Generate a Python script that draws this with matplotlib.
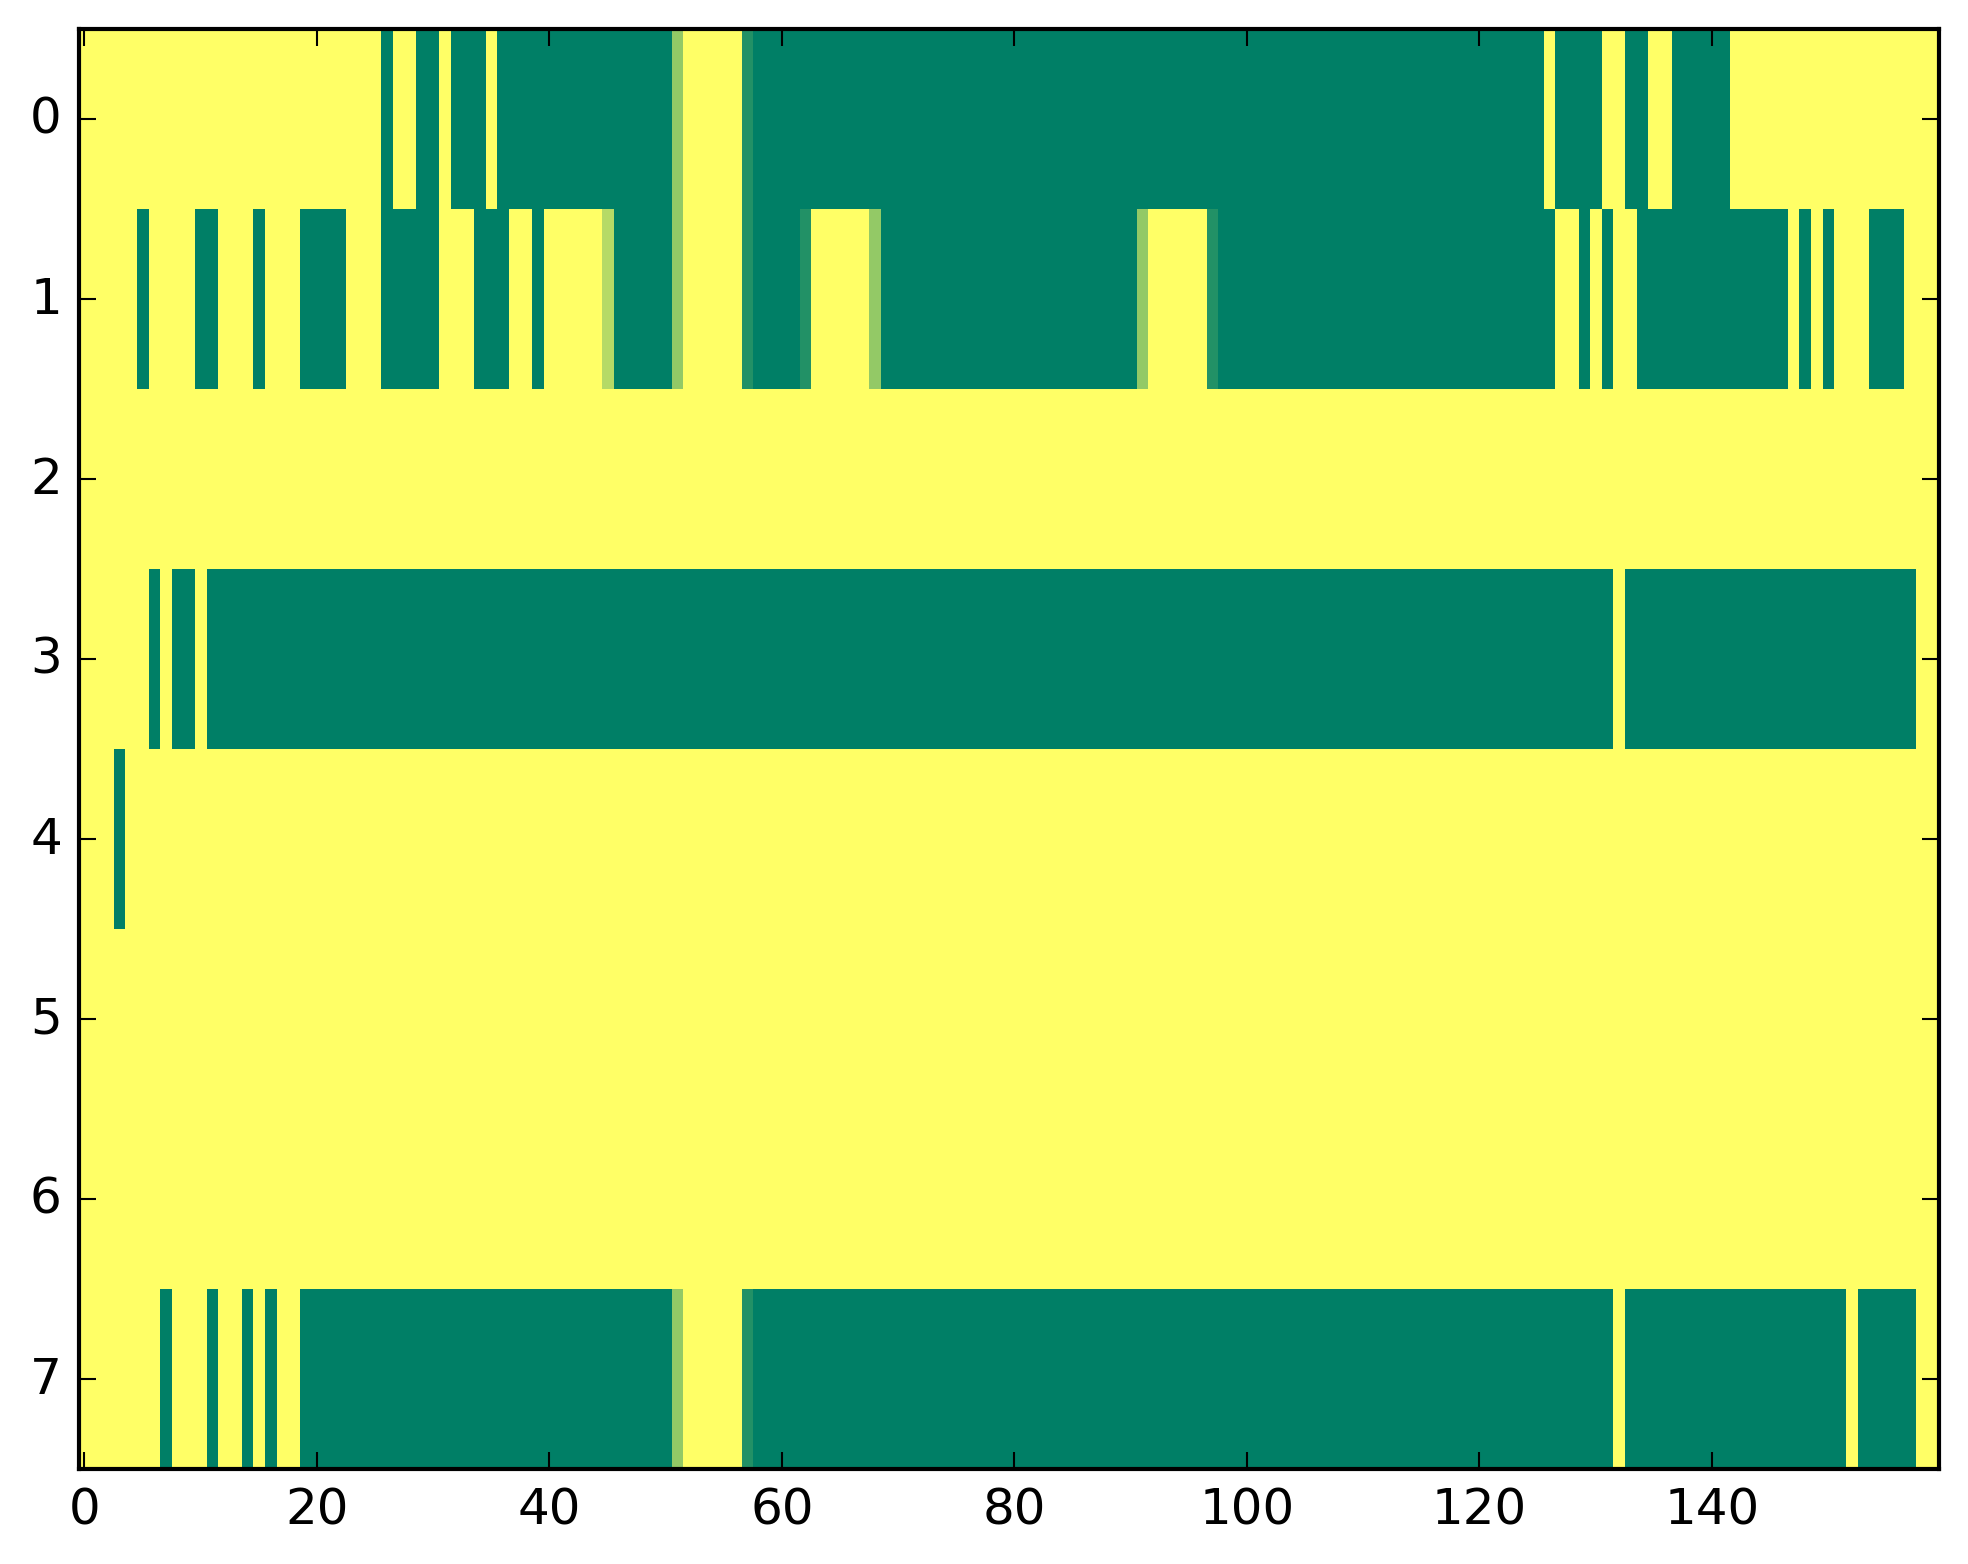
import numpy as np
import matplotlib
matplotlib.use("Agg")
import matplotlib.pyplot as plt

plt.style.use("classic")

# Each row is encoded as runs of (value, count); 160 columns per row
row0_runs = [(0, 26), (1, 1), (0, 2), (1, 2), (0, 1), (1, 3), (0, 1), (1, 15),
             (0.42, 1), (0, 5), (0.86, 1), (1, 68), (0, 1), (1, 4), (0, 2),
             (1, 2), (0, 2), (1, 5), (0, 18)]
row1_runs = [(0, 5), (1, 1), (0, 4), (1, 2), (0, 3), (1, 1), (0, 3), (1, 4),
             (0, 3), (1, 5), (0, 3), (1, 3), (0, 2), (1, 1), (0, 5), (0.29, 1),
             (1, 5), (0.42, 1), (0, 5), (0.86, 1), (1, 4), (0.86, 1), (0, 5),
             (0.42, 1), (1, 22), (0.42, 1), (0, 5), (0.86, 1), (1, 29), (0, 2),
             (1, 1), (0, 1), (1, 1), (0, 2), (1, 13), (0, 1), (1, 1), (0, 1),
             (1, 1), (0, 3), (1, 3), (0, 3)]
row2_runs = [(0, 160)]
row3_runs = [(0, 6), (1, 1), (0, 1), (1, 2), (0, 1), (1, 121), (0, 1), (1, 25),
             (0, 2)]
row4_runs = [(0, 3), (1, 1), (0, 156)]
row5_runs = [(0, 160)]
row6_runs = [(0, 160)]
row7_runs = [(0, 7), (1, 1), (0, 3), (1, 1), (0, 2), (1, 1), (0, 1), (1, 1),
             (0, 2), (1, 32), (0.42, 1), (0, 5), (0.86, 1), (1, 74), (0, 1),
             (1, 19), (0, 1), (1, 5), (0, 2)]

all_runs = [row0_runs, row1_runs, row2_runs, row3_runs,
            row4_runs, row5_runs, row6_runs, row7_runs]


def expand(runs):
    out = []
    for v, n in runs:
        out.extend([v] * n)
    return out


grid = np.array([expand(r) for r in all_runs], dtype=float)

fig, ax = plt.subplots(figsize=(8, 6))
ax.imshow(grid, cmap="summer_r", aspect="auto", interpolation="nearest",
          vmin=0, vmax=1)
fig.savefig("out.png", dpi=300, bbox_inches="tight")
